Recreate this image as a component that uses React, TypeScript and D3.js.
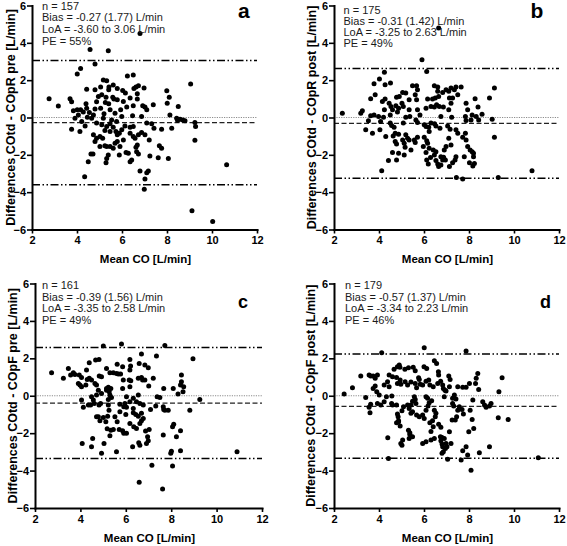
import React, { useEffect, useRef } from 'react';
import * as d3 from 'd3';

const xTickValues = [2, 4, 6, 8, 10, 12];
const yTickValues = [-6, -4, -2, 0, 2, 4, 6];
const panelLetters = ['a', 'b', 'c', 'd'];
const yTitles = [
  'Differences COtd - COpR pre [L/min]',
  'Differences COtd - COpR post [L/min]',
  'Differences COtd - COpF pre [L/min]',
  'Differences COtd - COpF post [L/min]',
];
const xTitle = 'Mean CO [L/min]';
const nValues = [157, 175, 161, 179];
const biasValues = [-0.27, -0.31, -0.39, -0.57];
const sdValues = [1.77, 1.42, 1.56, 1.37];
const loaLower = [-3.6, -3.25, -3.35, -3.34];
const loaUpper = [3.06, 2.63, 2.58, 2.23];
const peValues = [55, 49, 49, 46];

const aMean = [6.80,4.58,5.39,4.80,4.16,4.01,6.50,6.24,5.17,5.32,9.05,4.43,4.80,5.05,5.42,5.41,5.61,5.79,6.03,6.15,6.53,6.62,6.73,6.98,6.68,7.99,2.76,3.69,5.59,5.29,5.64,6.68,8.10,3.17,3.76,4.40,4.87,5.05,5.26,5.41,5.79,5.94,6.21,6.50,6.92,7.02,7.10,7.39,8.01,8.50,3.84,4.01,4.16,4.28,4.55,4.80,5.47,5.69,4.06,3.91,4.65,4.46,5.20,5.54,5.76,6.47,8.13,8.43,8.58,8.70,8.80,8.47,7.10,7.32,5.47,4.87,5.10,9.24,4.36,3.76,4.13,5.32,5.61,5.99,6.13,6.36,6.50,7.42,7.76,8.21,9.27,5.24,6.36,5.79,5.88,4.73,5.02,5.14,4.87,6.50,6.58,7.02,6.87,9.24,7.21,5.79,4.80,5.69,6.68,6.62,5.32,5.47,5.24,5.61,7.66,7.76,6.65,6.73,6.18,6.28,5.88,4.62,4.71,5.39,5.32,5.29,4.50,6.36,6.43,7.24,7.61,8.06,10.65,4.34,6.80,7.10,7.17,7.02,6.99,9.11,10.03,4.95,4.73,5.99,6.06,6.36,5.17,5.47,5.73,6.06,5.02,5.91,6.73,4.43,4.21,6.87,5.10];
const aDiff = [4.50,3.64,3.58,2.87,2.62,2.33,2.28,2.22,2.01,1.97,1.79,1.52,1.49,1.63,1.63,1.49,1.74,1.56,1.45,1.31,1.56,1.63,1.70,1.58,1.27,1.43,1.00,1.00,1.09,1.09,0.99,0.99,1.08,0.61,0.84,0.73,0.84,0.50,0.81,0.73,0.95,0.41,0.56,0.63,0.63,0.56,0.41,0.68,0.77,0.59,0.36,0.41,0.41,0.30,0.27,0.45,0.41,0.23,0.14,-0.04,-0.04,0.02,0.20,-0.13,-0.22,0.09,0.14,-0.04,-0.09,-0.13,-0.18,-0.16,-0.30,-0.34,-0.34,-0.30,-0.39,-0.27,-0.45,-0.63,-0.75,-0.48,-0.52,-0.66,-0.45,-0.52,-0.48,-0.57,-0.63,-0.57,-0.48,-0.70,-0.84,-0.93,-0.84,-0.93,-1.02,-1.11,-1.11,-1.02,-1.11,-0.93,-0.81,-1.22,-1.20,-1.29,-1.29,-1.38,-1.47,-1.59,-1.56,-1.56,-1.52,-1.65,-1.52,-1.65,-1.83,-1.95,-1.88,-1.92,-2.01,-1.95,-1.95,-2.01,-2.19,-2.42,-2.37,-2.37,-2.28,-2.06,-2.15,-2.19,-2.53,-3.17,-2.87,-2.96,-2.87,-3.30,-3.85,-5.00,-5.57,1.13,0.14,0.05,0.86,1.04,-0.04,-0.75,-0.75,-1.20,-1.56,-1.56,-0.93,0.50,-0.22,0.05,1.22];

const bPoints: [number, number][] = [
  [6.65,4.80],[5.91,3.10],[6.12,2.47],[4.24,2.42],[4.02,2.06],[4.51,1.85],[4.27,1.76],[3.78,1.81],
  [5.49,1.70],[5.67,1.70],[6.46,1.70],[6.61,1.63],[7.42,1.63],[7.65,1.63],[9.13,1.58],[3.83,1.22],[3.63,1.00],[4.27,0.99],[4.78,1.09],[4.90,1.13],[5.05,1.34],[5.19,1.31],[5.61,1.22],[5.34,0.95],[5.67,0.95],[6.50,1.04],[6.65,1.13],[6.83,1.34],[6.98,1.49],[7.10,1.40],[7.20,1.58],[7.35,1.49],[7.50,1.22],[7.27,1.04],[7.13,1.04],[6.16,0.99],[6.38,0.99],[8.27,1.00],[8.91,1.04],[7.87,0.77],[5.71,1.49],[6.61,1.40],
  [3.19,0.23],[3.26,0.36],[2.37,0.23],[4.15,0.86],[4.45,0.77],[4.53,0.59],[4.75,0.63],[5.02,0.77],[5.08,0.59],[4.87,0.50],[4.82,0.30],[4.60,0.41],[4.50,0.14],[4.24,0.41],[4.20,0.02],[3.63,0.09],[3.78,0.14],[3.98,0.05],[5.19,0.02],[5.37,0.05],[5.34,0.41],[5.71,0.41],[5.82,0.14],[6.09,0.50],[6.31,0.59],[6.46,0.56],[6.56,0.68],[6.68,0.59],[6.86,0.56],[7.10,0.41],[7.20,0.77],[6.75,0.05],[7.23,0.02],[7.84,0.05],[8.40,0.56],[8.58,0.18],[8.43,-0.13],[9.03,-0.09],[8.14,0.14],[7.94,0.41],
  [3.53,-0.18],[3.41,-0.66],[3.71,-0.84],[4.07,-0.22],[4.04,-0.66],[4.50,-0.30],[4.56,-0.43],[4.67,-0.52],[4.72,-0.84],[5.08,-0.30],[5.64,-0.13],[5.71,-0.27],[6.01,-0.39],[6.09,-0.48],[6.21,-0.52],[6.23,-0.75],[6.31,-0.30],[6.47,-0.34],[6.53,-0.45],[6.71,-0.57],[7.05,-0.45],[7.16,-0.63],[7.42,-0.66],[7.50,-0.84],[7.87,-0.16],[8.09,-0.13],[8.32,0.05],
  [4.30,-1.02],[4.63,-0.99],[4.87,-0.90],[5.19,-0.93],[4.72,-1.29],[4.78,-1.42],[5.05,-1.20],[5.12,-1.38],[5.16,-1.59],[5.27,-1.11],[5.34,-1.20],[5.57,-1.20],[5.61,-1.34],[5.71,-1.06],[6.01,-1.06],[6.12,-1.24],[6.16,-1.38],[5.97,-1.56],[6.23,-1.65],[6.41,-1.74],[6.09,-1.88],[6.46,-2.01],[6.53,-1.83],[6.75,-2.10],[6.83,-2.28],[6.90,-1.74],[6.98,-1.56],[7.20,-1.47],[7.10,-1.11],[7.72,-1.06],[7.87,-1.20],[7.94,-1.56],[8.14,-1.83],[8.20,-1.92],[7.79,-2.10],[7.42,-2.10],[7.38,-2.28],[7.84,-0.84],[9.13,-1.06],[5.42,-1.74],[5.12,-2.01],[4.87,-1.92],[4.60,-1.88],[4.42,-2.31],[4.78,-2.28],
  [4.12,-2.85],[6.12,-2.28],[6.19,-2.49],[6.53,-2.31],[6.61,-2.49],[6.75,-2.54],[6.87,-2.13],[6.95,-2.28],[7.13,-2.63],[6.65,-2.63],[7.27,-2.42],[8.02,-2.42],[8.20,-2.10],[8.24,-2.46],[8.17,-2.60],[8.05,-1.74],[7.44,-3.21],[7.72,-3.30],[9.30,-3.21],[10.80,-2.85],[6.29,-2.14],
];

const cPoints: [number, number][] = [
  [5.01,2.66],[5.81,2.76],[7.72,2.69],[8.96,1.98],[7.35,2.12],[6.69,2.23],[6.18,1.94],[6.59,1.73],[6.84,1.64],[6.99,1.50],
  [6.21,1.59],[5.86,1.55],[5.62,1.69],[5.45,1.23],[5.30,1.23],[4.82,1.94],[4.67,1.91],[4.39,1.76],[4.83,1.05],[4.93,1.02],
  [5.15,1.46],[2.73,1.23],[3.47,1.46],[3.69,1.23],[3.57,1.11],[3.76,1.14],[3.25,0.93],[3.95,1.11],[4.05,0.98],[3.91,0.66],
  [3.98,0.57],[4.05,0.48],[4.24,0.57],[4.30,0.87],[4.39,0.93],[4.49,0.84],[4.64,0.66],[5.59,1.19],[5.67,1.16],[5.77,1.16],
  [5.89,0.84],[6.15,0.84],[6.22,0.80],[6.18,0.48],[6.55,0.93],[6.69,0.98],[6.74,0.84],[6.84,0.84],[7.21,0.93],[7.01,0.52],
  [8.45,1.11],[8.45,0.75],[8.41,0.57],[8.55,0.48],[8.52,0.21],[8.30,0.09],[8.09,0.39],[7.67,0.39],[7.38,-0.05],[7.50,-0.09],
  [7.72,-0.77],[7.67,-0.73],[7.87,-0.77],[7.32,-0.55],[7.09,-0.73],[6.77,-0.50],[6.62,-0.41],[6.55,0.04],[6.33,-0.14],[6.18,-0.32],
  [5.96,-0.41],[5.91,-0.59],[6.03,-0.62],[5.74,-0.86],[6.00,-1.00],[6.33,-0.68],[6.33,-0.91],[6.44,-1.00],[6.55,-1.09],[6.69,-0.94],
  [6.77,-1.21],[6.69,-1.34],[6.62,-1.48],[6.18,-1.48],[6.35,-1.66],[6.47,-1.75],[6.87,-1.89],[7.03,-1.80],[6.96,-2.19],[6.99,-2.41],
  [6.91,-2.55],[6.57,-2.51],[6.62,-2.64],[6.30,-2.73],[5.59,-2.99],[6.03,-2.01],[5.86,-1.87],[5.91,-2.01],[5.71,-1.80],[5.18,-1.76],
  [5.34,-1.84],[5.45,-1.80],[5.30,-2.14],[5.04,-2.55],[4.93,-3.08],[4.54,-2.28],[4.49,-2.73],[4.08,-2.55],[4.13,-0.62],[4.05,-0.23],
  [4.35,-0.50],[4.45,-0.50],[4.57,-0.23],[4.49,-0.05],[4.71,0.04],[4.79,0.30],[4.93,0.12],[5.15,0.39],[5.23,0.45],[5.34,0.39],
  [5.27,0.21],[5.30,0.04],[5.37,-0.09],[5.23,-0.20],[5.23,-0.50],[5.26,-0.77],[5.20,-1.09],[5.12,-1.39],[5.01,-1.16],[4.86,-1.34],
  [4.79,-1.12],[4.71,-1.12],[4.61,-0.41],[4.82,-0.50],[4.71,0.57],[4.89,-0.41],[5.15,0.30],[5.74,-0.45],[5.86,0.39],[7.65,-2.10],
  [8.11,-1.52],[8.06,-1.66],[8.41,-1.87],[8.23,-2.19],[8.01,-2.96],[7.98,-3.08],[8.06,-3.76],[8.41,-2.94],[7.15,-3.71],[7.62,-4.99],
  [6.59,-4.63],[8.82,-0.77],[9.26,-0.20],[10.90,-2.99],[7.65,-0.59],[6.03,-0.05],[6.47,-0.32],[5.52,-1.12],[5.62,-1.39],[6.18,1.37],
  [4.27,1.37],
];

const dPoints: [number, number][] = [
  [6.01,2.57],[7.87,2.39],[4.12,2.30],[4.45,1.11],[4.60,1.02],[4.90,1.64],[4.82,1.55],[4.67,1.41],[4.93,1.52],[5.15,1.41],
  [5.31,1.50],[5.52,1.52],[5.61,1.34],[5.76,0.96],[5.79,0.87],[6.00,1.55],[6.12,1.46],[6.46,1.87],[6.56,1.73],[6.64,1.28],
  [6.65,1.11],[7.10,1.05],[7.16,0.87],[8.39,1.19],[8.32,0.93],[8.29,0.66],[8.43,0.34],[9.47,0.96],[9.33,0.21],[8.02,0.66],
  [7.87,0.45],[7.72,0.45],[3.19,1.05],[3.56,1.11],[3.63,1.05],[3.74,1.05],[3.83,0.93],[3.93,1.11],[3.83,0.52],[3.74,0.39],
  [3.90,0.21],[4.01,0.04],[4.38,0.75],[4.45,0.48],[4.78,0.98],[4.82,0.66],[4.97,0.61],[4.94,0.84],[5.16,0.75],[5.27,0.57],
  [5.42,0.73],[5.61,0.66],[5.67,0.43],[5.83,0.62],[5.94,0.57],[6.09,0.78],[6.21,0.84],[6.26,0.57],[6.41,0.48],[6.61,0.66],
  [6.74,0.78],[6.83,0.57],[6.86,0.39],[6.93,0.30],[6.98,0.25],[7.13,0.48],[7.50,0.48],[7.27,-0.41],[2.82,0.43],[2.45,0.09],
  [3.41,-0.09],[3.63,-0.45],[3.56,-0.62],[3.60,-0.91],[3.93,-0.41],[4.08,-0.50],[4.23,-0.32],[4.33,-0.05],[4.57,-0.02],[4.56,-0.41],
  [4.60,-0.50],[4.78,-0.50],[4.82,-0.98],[4.87,-1.34],[4.94,-1.62],[4.85,-1.12],[4.87,-1.39],[4.78,-1.44],[5.02,-0.80],[5.09,-0.59],
  [5.27,-0.50],[5.34,-0.68],[5.42,-0.50],[5.49,-0.29],[5.57,-0.05],[5.61,-0.20],[5.64,-0.41],[5.42,-0.94],[5.49,-0.86],[5.67,-1.03],
  [5.79,-1.12],[5.94,-1.03],[6.01,-1.21],[6.09,-0.77],[6.18,-0.55],[6.23,-0.37],[6.34,-0.27],[6.46,-0.77],[6.53,-0.94],[6.50,-1.12],
  [6.26,-1.44],[6.38,-1.34],[6.65,-1.52],[6.75,-1.69],[6.80,-2.23],[6.73,-2.19],[6.75,-2.41],[6.80,-2.58],[6.83,-2.73],[6.86,-2.99],
  [6.95,-2.82],[7.02,-2.73],[6.90,-2.28],[6.98,-2.55],[7.20,-2.55],[7.13,-1.93],[7.25,-1.30],[7.39,-1.30],[7.45,-1.12],[7.32,-0.55],
  [7.57,-0.59],[7.50,-0.77],[7.69,-0.73],[7.75,-0.98],[8.17,-0.23],[8.05,-0.77],[8.14,-1.27],[8.21,-1.75],[7.99,-1.93],[7.87,-2.73],
  [7.94,-3.17],[8.09,-3.98],[7.72,-2.94],[7.65,-3.44],[7.05,-3.40],[6.80,-3.08],[6.41,-1.66],[6.31,-1.91],[6.31,-2.37],[6.46,-2.28],
  [5.94,-2.55],[6.09,-2.46],[5.34,-2.28],[5.05,-2.37],[5.49,-2.19],[5.37,-2.07],[5.31,-1.84],[5.37,-1.98],[4.97,-2.55],[4.39,-2.25],
  [4.42,-3.35],[5.02,-2.64],[8.91,-2.73],[8.46,-3.05],[8.69,-0.50],[8.76,-0.62],[8.91,-0.55],[8.98,-0.41],[8.61,-0.32],[9.30,-1.18],
  [9.74,-1.27],[11.08,-3.32],[6.90,-0.05],[7.27,-0.14],[7.42,-0.18],[7.35,0.04],[6.09,-0.05],[6.16,-0.14],[4.23,0.57],
];

const FONT = '"Liberation Sans", Arial, Helvetica, sans-serif';

export default function App() {
  const ref = useRef<SVGSVGElement>(null);

  useEffect(() => {
    const svg = d3.select(ref.current);
    svg.selectAll('*').remove();

    const aPoints: [number, number][] = aMean.map((m, i) => [m, aDiff[i]]);
    const allPoints = [aPoints, bPoints, cPoints, dPoints];

    const layouts = [
      { x0: 32, x1: 257, yt: 5.5, yb: 229.5, sx: 42, sy: 9.8, ss: 11.6, lx: 238, ly: 17.5, lf: 21, ytx: 15.2, xty: 262.5 },
      { x0: 334, x1: 559, yt: 5.5, yb: 229.5, sx: 343.5, sy: 13.8, ss: 11.2, lx: 530.5, ly: 17.5, lf: 21, ytx: 315.7, xty: 262.5 },
      { x0: 35, x1: 262, yt: 283.5, yb: 508, sx: 42, sy: 288.8, ss: 11.7, lx: 238, ly: 308.3, lf: 18, ytx: 16.7, xty: 541.5 },
      { x0: 334, x1: 559, yt: 283.5, yb: 508, sx: 345, sy: 288.8, ss: 11.7, lx: 540, ly: 308.3, lf: 18, ytx: 315.2, xty: 541.5 },
    ];

    allPoints.forEach((pts, i) => {
      const L = layouts[i];
      const x = d3.scaleLinear().domain([2, 12]).range([L.x0, L.x1]);
      const y = d3.scaleLinear().domain([-6, 6]).range([L.yb, L.yt]);
      const g = svg.append('g');

      const hline = (v: number, color: string, w: number, dash: string) =>
        g.append('line')
          .attr('x1', x(2)).attr('x2', x(12))
          .attr('y1', y(v)).attr('y2', y(v))
          .attr('stroke', color).attr('stroke-width', w)
          .attr('stroke-dasharray', dash);

      hline(0, '#8c8c8c', 1, '1.2 1.2');
      hline(biasValues[i], '#222', 1.2, '5 2.5');
      hline(loaUpper[i], '#000', 1.5, '8 2.5 1.5 2.5 1.5 2.5');
      hline(loaLower[i], '#000', 1.5, '8 2.5 1.5 2.5 1.5 2.5');

      g.append('g').selectAll('circle').data(pts).join('circle')
        .attr('cx', (d) => x(d[0]))
        .attr('cy', (d) => y(d[1]))
        .attr('r', 2.5)
        .attr('fill', '#000');

      const ax = g.append('g')
        .attr('transform', `translate(0,${L.yb})`)
        .call(d3.axisBottom(x).tickValues(xTickValues).tickSize(4).tickPadding(3).tickSizeOuter(0));
      const ay = g.append('g')
        .attr('transform', `translate(${L.x0},0)`)
        .call(d3.axisLeft(y).tickValues(yTickValues).tickSize(5).tickPadding(1).tickSizeOuter(0));

      [ax, ay].forEach((a) => {
        a.attr('font-family', FONT).attr('font-size', 11).attr('font-weight', 'bold');
        a.select('.domain').attr('stroke', '#000').attr('stroke-width', 2).attr('stroke-linecap', 'square');
        a.selectAll('.tick line').attr('stroke', '#000').attr('stroke-width', 1.6);
        a.selectAll('.tick text').attr('fill', '#000');
      });

      g.append('text')
        .attr('x', (L.x0 + L.x1) / 2 + 1)
        .attr('y', L.xty)
        .attr('text-anchor', 'middle')
        .attr('font-family', FONT).attr('font-size', 11.5).attr('font-weight', 'bold')
        .attr('fill', '#000')
        .text(xTitle);

      g.append('text')
        .attr('transform', `translate(${L.ytx},${(L.yt + L.yb) / 2}) rotate(-90)`)
        .attr('text-anchor', 'middle')
        .attr('font-family', FONT).attr('font-size', 12.5).attr('font-weight', 'bold')
        .attr('fill', '#000')
        .text(yTitles[i]);

      const lines = [
        `n = ${nValues[i]}`,
        `Bias = ${biasValues[i].toFixed(2)} (${sdValues[i].toFixed(2)}) L/min`,
        `LoA = ${loaLower[i].toFixed(2)} to ${loaUpper[i].toFixed(2)} L/min`,
        `PE = ${peValues[i]}%`,
      ];
      lines.forEach((t, k) => {
        g.append('text')
          .attr('x', L.sx)
          .attr('y', L.sy + k * L.ss)
          .attr('font-family', FONT).attr('font-size', 11)
          .attr('fill', '#1a1a1a')
          .text(t);
      });

      g.append('text')
        .attr('x', L.lx).attr('y', L.ly)
        .attr('font-family', FONT).attr('font-size', L.lf).attr('font-weight', 'bold')
        .attr('fill', '#000')
        .text(panelLetters[i]);
    });
  }, []);

  return (
    <svg
      ref={ref}
      width={567}
      height={546}
      style={{ position: 'absolute', left: 0, top: 0, background: '#fff', display: 'block' }}
    />
  );
}
